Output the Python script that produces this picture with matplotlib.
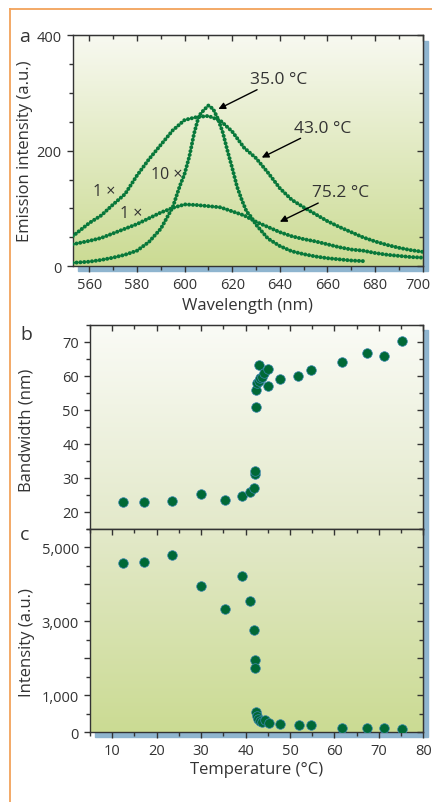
import matplotlib
matplotlib.use('Agg')
import matplotlib.pyplot as plt
import numpy as np
from matplotlib.colors import LinearSegmentedColormap
from matplotlib.patches import Rectangle
from matplotlib.lines import Line2D
from matplotlib.ticker import MultipleLocator
from matplotlib.transforms import ScaledTranslation

plt.rcParams['font.family'] = ['Open Sans', 'DejaVu Sans']

# ---- panel a: emission spectra ----
wl_35 = [553, 560, 565, 570, 575, 580, 585, 590, 595, 598, 600, 602, 604, 606, 608,
         610, 612, 614, 616, 618, 620, 622, 624, 626, 628, 630, 635, 640, 645, 650,
         655, 660, 665, 670, 675]
int_35 = [6, 8, 11, 15, 20, 27, 42, 65, 102, 139, 160, 190, 230, 260, 270,
          278, 272, 255, 232, 200, 170, 138, 115, 95, 85, 72, 48, 35, 26, 21,
          17, 14, 12, 10, 9]

wl_43 = [553, 560, 565, 570, 575, 580, 585, 590, 595, 600, 605, 610, 615, 620, 625,
         630, 635, 640, 645, 650, 655, 660, 665, 670, 675, 680, 685, 690, 695, 700]
int_43 = [52, 75, 88, 107, 125, 157, 185, 210, 235, 253, 258, 260, 252, 233, 205,
          187, 162, 135, 115, 102, 90, 78, 68, 59, 50, 43, 37, 32, 28, 25]

wl_75 = wl_43
int_75 = [38, 44, 49, 57, 65, 73, 83, 93, 101, 107, 106, 104, 102, 95, 88,
          77, 68, 59, 52, 47, 43, 38, 33, 29, 27, 23, 20, 18, 16, 15]

# ---- panel b: bandwidth vs temperature ----
temp_b = [12.4, 17.2, 23.4, 29.9, 35.4, 39.1, 41.0, 41.8, 42.1, 42.1, 42.4, 42.4, 42.5,
          43.0, 43.0, 43.3, 43.6, 44.1, 45.1, 45.1, 47.8, 51.9, 54.7, 61.8, 67.3, 71.2, 75.2]
bandwidth = [23.0, 23.0, 23.1, 25.1, 23.4, 24.5, 25.7, 27.1, 31.2, 31.9, 50.9, 55.9, 58.0,
             63.2, 58.5, 59.3, 59.8, 60.8, 62.0, 57.0, 59.0, 59.9, 61.7, 64.1, 66.7, 65.8, 70.3]

# ---- panel c: intensity vs temperature ----
temp_c = [12.4, 17.2, 23.4, 29.9, 35.4, 39.1, 41.1, 42.0, 42.2, 42.2, 42.4, 42.5, 42.7,
          43.2, 43.6, 44.3, 45.2, 47.8, 52.0, 54.8, 61.8, 67.3, 71.2, 75.2]
intensity = [4570, 4590, 4800, 3960, 3320, 4220, 3560, 2760, 1940, 1740, 540, 450, 370,
             300, 280, 330, 260, 230, 210, 190, 120, 110, 110, 100]

W, H = 432, 803
GREEN = '#08783a'
DOT = '#006936'
EDGE = '#3b86b0'
SHADOW = '#8fb5cf'
TXT = '#333333'

fig = plt.figure(figsize=(W / 100, H / 100), dpi=100)


def fbox(x0, y0, x1, y1):
    # pixel box (top-left origin) -> figure fraction [l, b, w, h]
    return [x0 / W, 1 - y1 / H, (x1 - x0) / W, (y1 - y0) / H]


def gradient(ax, top, bottom):
    cmap = LinearSegmentedColormap.from_list('g', [top, bottom])
    grad = np.linspace(0, 1, 256).reshape(-1, 1)
    ax.imshow(grad, cmap=cmap, aspect='auto', extent=[0, 1, 0, 1],
              transform=ax.transAxes, zorder=0, interpolation='bilinear')


def style(ax, xmaj, xmin, ymaj, ymin, top=True, bottom=True):
    for s in ax.spines.values():
        s.set_color(TXT)
        s.set_linewidth(1.0)
    ax.xaxis.set_major_locator(MultipleLocator(xmaj))
    ax.xaxis.set_minor_locator(MultipleLocator(xmin))
    ax.yaxis.set_major_locator(MultipleLocator(ymaj))
    ax.yaxis.set_minor_locator(MultipleLocator(ymin))
    ax.tick_params(which='both', direction='out', top=False, right=False,
                   bottom=bottom, colors=TXT, labelsize=10.5, width=1.0)
    ax.tick_params(which='major', length=4.5)
    ax.tick_params(which='minor', length=3)
    # inward ticks on top and right
    if top:
        sx = ax.secondary_xaxis('top')
        sx.xaxis.set_major_locator(MultipleLocator(xmaj))
        sx.xaxis.set_minor_locator(MultipleLocator(xmin))
        sx.tick_params(which='both', direction='in', labeltop=False, colors=TXT, width=1.0)
        sx.tick_params(which='major', length=4.5)
        sx.tick_params(which='minor', length=3)
        sx.spines['top'].set_color(TXT)
    sy = ax.secondary_yaxis('right')
    sy.yaxis.set_major_locator(MultipleLocator(ymaj))
    sy.yaxis.set_minor_locator(MultipleLocator(ymin))
    sy.tick_params(which='both', direction='in', labelright=False, colors=TXT, width=1.0)
    sy.tick_params(which='major', length=4.5)
    sy.tick_params(which='minor', length=3)
    sy.spines['right'].set_color(TXT)


# shadows and frame
fig.add_artist(Rectangle((78 / W, 1 - 272 / H), 350 / W, 230 / H, transform=fig.transFigure,
                         color=SHADOW, zorder=-1))
fig.add_artist(Rectangle((95 / W, 1 - 738 / H), 333 / W, 407 / H, transform=fig.transFigure,
                         color=SHADOW, zorder=-1))
fig.add_artist(Line2D([10 / W, 10 / W], [0, 1 - 10 / H], transform=fig.transFigure,
                      color='#f2a35a', lw=1.3))
fig.add_artist(Line2D([10 / W, 1], [1 - 10 / H, 1 - 10 / H], transform=fig.transFigure,
                      color='#f2a35a', lw=1.3))

# ---- panel a ----
ax1 = fig.add_axes(fbox(72.7, 36, 422.7, 267.3))
gradient(ax1, '#f8f9f1', '#cbdb93')
line_kw = dict(color=GREEN, lw=2.9, linestyle=(0, (0.01, 0.95)), dash_capstyle='round', zorder=3)
ax1.plot(wl_43, int_43, **line_kw)
ax1.plot(wl_75, int_75, **line_kw)
ax1.plot(wl_35, int_35, **line_kw)
ax1.set_xlim(553, 700)
ax1.set_ylim(0, 400)
style(ax1, 20, 10, 200, 50)
ax1.set_xlabel('Wavelength (nm)', fontsize=12, color=TXT)
ax1.xaxis.set_label_coords(0.5, -0.169)
ax1.xaxis.label.set_va('center')
ax1.set_ylabel('Emission intensity (a.u.)', fontsize=12, color=TXT)
ax1.yaxis.set_label_coords(-0.136, 0.5)
ax1.yaxis.label.set_va('center')
# pull the last wavelength label a little left so it stays on the page
fig.canvas.draw()
last = [t for t in ax1.get_xticklabels() if t.get_text().replace('\u2212', '-') == '700']
for t in last:
    t.set_transform(t.get_transform() + ScaledTranslation(-5 / 100, 0, fig.dpi_scale_trans))

ann_kw = dict(fontsize=12.5, color=TXT, va='center', ha='left')
arrow = dict(arrowstyle='-|>', color='black', lw=1.0, mutation_scale=10, shrinkA=0, shrinkB=0)
ax1.annotate('35.0 °C', xy=(614.2, 272), xytext=(627.5, 324), arrowprops=arrow, **ann_kw)
ax1.annotate('43.0 °C', xy=(632.4, 188), xytext=(645.8, 240), arrowprops=arrow, **ann_kw)
ax1.annotate('75.2 °C', xy=(640.0, 77), xytext=(653.4, 128), arrowprops=arrow, **ann_kw)
ax1.text(561.5, 131, '1 ×', fontsize=11.5, color=TXT, va='center', ha='left')
ax1.text(586.0, 160, '10 ×', fontsize=11.5, color=TXT, va='center', ha='left')
ax1.text(572.7, 93, '1 ×', fontsize=11.5, color=TXT, va='center', ha='left')
fig.text(25 / W, 1 - 37 / H, 'a', fontsize=14, color=TXT, ha='center', va='center')

# ---- panel b ----
ax2 = fig.add_axes(fbox(90, 326, 423.3, 529.7))
gradient(ax2, '#fafbf6', '#e3e9ca')
ax2.scatter(temp_b, bandwidth, s=48, color=DOT, edgecolor=EDGE, linewidth=0.5, zorder=3)
ax2.set_xlim(5, 80)
ax2.set_ylim(15, 75)
style(ax2, 10, 5, 10, 5, bottom=False)
ax2.tick_params(labelbottom=False)
ax2.set_ylabel('Bandwidth (nm)', fontsize=12, color=TXT)
ax2.yaxis.set_label_coords(-0.192, 0.49)
ax2.yaxis.label.set_va('center')
fig.text(26.5 / W, 1 - 335 / H, 'b', fontsize=14, color=TXT, ha='center', va='center')

# ---- panel c ----
ax3 = fig.add_axes(fbox(90, 529.7, 423.3, 733.3))
gradient(ax3, '#e3e9ca', '#cbdb93')
ax3.scatter(temp_c, intensity, s=48, color=DOT, edgecolor=EDGE, linewidth=0.5, zorder=3)
ax3.set_xlim(5, 80)
ax3.set_ylim(0, 5500)
style(ax3, 10, 5, 1000, 500)
ax3.set_yticks([0, 1000, 2000, 3000, 4000, 5000])
ax3.set_yticklabels(['0', '1,000', '', '3,000', '', '5,000'])
ax3.set_xlabel('Temperature (°C)', fontsize=12, color=TXT)
ax3.xaxis.set_label_coords(0.5, -0.182)
ax3.xaxis.label.set_va('center')
ax3.set_ylabel('Intensity (a.u.)', fontsize=12, color=TXT)
ax3.yaxis.set_label_coords(-0.189, 0.448)
ax3.yaxis.label.set_va('center')
fig.text(25 / W, 1 - 535 / H, 'c', fontsize=14, color=TXT, ha='center', va='center')

fig.savefig('out.png', dpi=100)
plt.close(fig)
